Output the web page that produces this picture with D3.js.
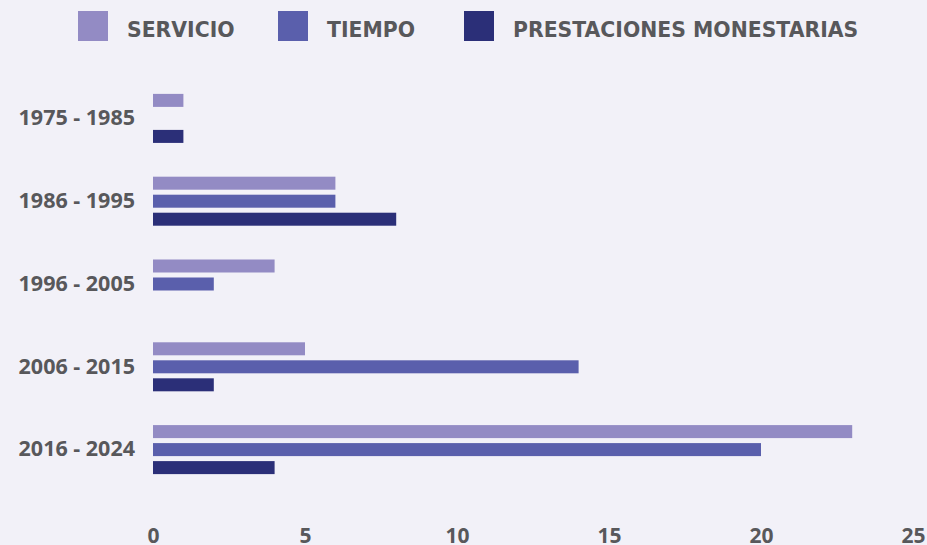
<!DOCTYPE html>
<html><head><meta charset="utf-8">
<script src="https://cdn.jsdelivr.net/npm/d3@7"></script>
<style>
html,body{margin:0;padding:0;background:#f2f1f8;}
svg{display:block;}
text{font-family:"Open Sans","DejaVu Sans",sans-serif;font-weight:700;fill:#58585b;}
text.leg{font-family:"DejaVu Sans",sans-serif;}
</style></head><body>
<svg id="c" width="927" height="545"></svg>
<script>
const categories = ["1975 - 1985","1986 - 1995","1996 - 2005","2006 - 2015","2016 - 2024"];
const seriesNames = ["SERVICIO","TIEMPO","PRESTACIONES MONESTARIAS"];
const servicio = [1,6,4,5,23];
const tiempo = [0,6,2,14,20];
const prestaciones = [1,8,0,2,4];
const xTicks = [0,5,10,15,20,25];
const colors = ["#938bc4","#5a5fac","#2b2f78"];

const seriesValues = [servicio, tiempo, prestaciones];
const svg = d3.select("#c");
const W = 927, H = 545;
const margin = {left:153, right:14, top:77, bottom:54};

const x = d3.scaleLinear().domain([0,25]).range([margin.left, W - margin.right]);
const y0 = d3.scaleBand().domain(categories).range([margin.top, H - margin.bottom])
  .paddingInner(0.408).paddingOuter(0.204);
const y1 = d3.scaleBand().domain(seriesNames).range([0, y0.bandwidth()]).paddingInner(0.278).paddingOuter(0);

const g = svg.append("g");
categories.forEach((cat, i) => {
  const grp = g.append("g").attr("transform", `translate(0,${y0(cat)})`);
  seriesNames.forEach((s, j) => {
    const v = seriesValues[j][i];
    if (v <= 0) return;
    grp.append("rect")
      .attr("x", x(0)).attr("y", y1(s))
      .attr("width", x(v) - x(0)).attr("height", y1.bandwidth())
      .attr("fill", colors[j]);
  });
});

// y axis labels
const yAxis = d3.axisLeft(y0).tickSize(0).tickPadding(18);
const ya = svg.append("g").attr("transform", `translate(${margin.left},0)`).call(yAxis);
ya.select(".domain").remove();
ya.selectAll("text").attr("font-size", 21.5).attr("font-family", null);

// x axis labels
const xAxis = d3.axisBottom(x).tickValues(xTicks).tickSize(0).tickPadding(0).tickFormat(d3.format("d"));
const xa = svg.append("g").attr("transform", `translate(0,${H-17})`).call(xAxis);
xa.select(".domain").remove();
xa.selectAll("text").attr("font-size", 21).attr("dy", "0.71em").attr("font-family", null);

// legend
const legendX = [78, 278, 464];
const leg = svg.append("g");
seriesNames.forEach((s, j) => {
  const lg = leg.append("g").attr("transform", `translate(${legendX[j]},11)`);
  lg.append("rect").attr("width", 30).attr("height", 30).attr("fill", colors[j]);
  lg.append("text").attr("class", "leg").attr("x", 49).attr("y", 26)
    .attr("font-size", 20.4).text(s);
});
</script>
</body></html>
